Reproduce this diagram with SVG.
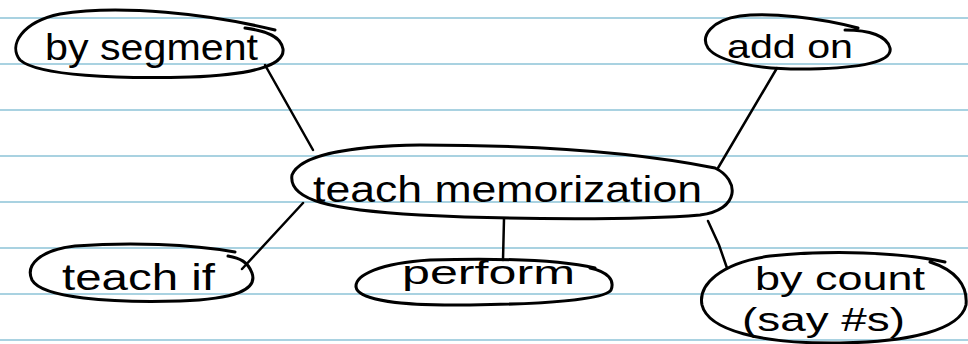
<svg xmlns="http://www.w3.org/2000/svg" width="968" height="344" viewBox="0 0 968 344">
<style>
.rule{stroke:#8cc3d7;stroke-width:1.5}
.shape{fill:none;stroke:#000;stroke-width:3;stroke-linecap:round;stroke-linejoin:round}
.lbl{font-family:"Liberation Sans","DejaVu Sans",sans-serif;fill:#000;font-weight:normal}
.edge{stroke:#000;stroke-width:2.5;fill:none;stroke-linecap:round}
</style>
<rect width="968" height="344" fill="#fff"/>
<g id="paper">
<line class="rule" x1="0" y1="18" x2="968" y2="18"/>
<line class="rule" x1="0" y1="64" x2="968" y2="64"/>
<line class="rule" x1="0" y1="110" x2="968" y2="110"/>
<line class="rule" x1="0" y1="156" x2="968" y2="156"/>
<line class="rule" x1="0" y1="202" x2="968" y2="202"/>
<line class="rule" x1="0" y1="248" x2="968" y2="248"/>
<line class="rule" x1="0" y1="294" x2="968" y2="294"/>
<line class="rule" x1="0" y1="340" x2="968" y2="340"/>
</g>
<g id="connectors">
<path class="edge" d="M265,65 L313,150"/>
<path class="edge" d="M777,68 L718,168"/>
<path class="edge" d="M303,203 L242,269"/>
<path class="edge" d="M504,219 L503,260"/>
<path class="edge" d="M708,221 L719,245 L727,268"/>
</g>
<g id="node-by-segment">
<path class="shape" d="M275,30 C210,14 120,4 60,14 C22,22 8,45 20,60 C38,76 120,79 190,77 C250,75 285,66 283,49 C281,37 268,31 245,28"/>
<text class="lbl" x="45" y="60" font-size="37" textLength="213" lengthAdjust="spacingAndGlyphs">by segment</text>
</g>
<g id="node-add-on">
<path class="shape" d="M858,28 C820,18 770,12 740,16 C712,20 700,36 708,48 C718,62 760,70 810,69 C860,68 893,62 890,48 C887,36 870,30 845,30"/>
<text class="lbl" x="727" y="58" font-size="33" textLength="126" lengthAdjust="spacingAndGlyphs">add on</text>
</g>
<g id="node-teach-memorization">
<path class="shape" d="M715,168 C650,155 550,145 420,145 C350,146 300,155 292,175 C288,200 330,210 420,215 C520,220 640,220 700,215 C740,210 740,180 715,168"/>
<text class="lbl" x="313" y="202" font-size="36" textLength="389" lengthAdjust="spacingAndGlyphs">teach memorization</text>
</g>
<g id="node-teach-if">
<path class="shape" d="M235,252 C190,244 130,242 75,246 C40,250 25,265 32,280 C42,298 110,303 180,301 C235,299 258,290 252,273 C248,262 240,258 228,256"/>
<text class="lbl" x="62" y="290" font-size="37" textLength="153" lengthAdjust="spacingAndGlyphs">teach if</text>
</g>
<g id="node-perform">
<path class="shape" d="M595,268 C560,260 500,258 430,260 C380,263 355,275 356,287 C358,300 400,306 470,305 C540,304 605,300 611,290 C615,280 608,272 590,268"/>
<text class="lbl" x="402" y="284" font-size="33" textLength="173" lengthAdjust="spacingAndGlyphs">perform</text>
</g>
<g id="node-by-count">
<path class="shape" d="M945,262 C900,252 830,250 770,256 C720,263 698,285 702,305 C708,330 760,344 840,343 C910,342 960,330 966,305 C968,285 955,270 930,262"/>
<text class="lbl" x="755" y="290" font-size="33" textLength="170" lengthAdjust="spacingAndGlyphs">by count</text>
<text class="lbl" x="742" y="331" font-size="33" textLength="163" lengthAdjust="spacingAndGlyphs">(say #s)</text>
</g>
</svg>
